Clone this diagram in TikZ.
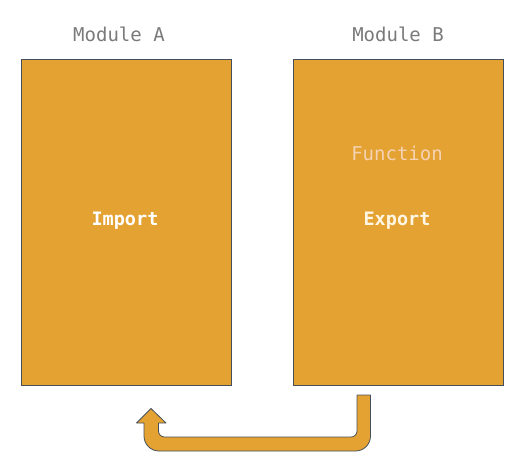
\documentclass[tikz,border=0pt]{standalone}
\usepackage{fontspec}
\setmonofont{DejaVu Sans Mono}
\begin{document}
\begin{tikzpicture}[x=1pt,y=1pt,
  modbox/.style={draw=edgec,fill=boxc,line width=0.8pt,minimum width=210pt,minimum height=326pt,inner sep=0pt},
  title/.style={text=titlec,font=\ttfamily\fontsize{19}{22}\selectfont},
  lbl/.style={font=\ttfamily\bfseries\fontsize{18.5}{22}\selectfont}]
\definecolor{boxc}{HTML}{E3A232}
\definecolor{edgec}{HTML}{46505C}
\definecolor{titlec}{HTML}{7A7A7A}
\definecolor{funcc}{HTML}{F6D2B4}
\definecolor{expc}{HTML}{FFF6E4}
\useasboundingbox (0,0) rectangle (529,-472);
\node[modbox] (A) at (126,-222) {};
\node[modbox] (B) at (398,-222) {};
\node[title] (tA) at (119,-34) {Module A};
\node[title] (tB) at (398,-34) {Module B};
\node[lbl,text=white] (imp) at (125,-221) {Import};
\node[lbl,text=expc] (exp) at (397,-221) {Export};
\node[font=\ttfamily\fontsize{19}{22}\selectfont,text=funcc] (fun) at (397,-153) {Function};
\coordinate (s) at (357,-395);
\draw[draw=edgec,fill=boxc,line width=0.8pt,line join=round]
  (s) -- ++(13.5,0) -- (370.5,-436) arc[start angle=0,end angle=-90,radius=15]
  -- (159,-451) arc[start angle=270,end angle=180,radius=15]
  -- (144,-423) -- (136.5,-423) -- (151,-408.5) -- (166,-423) -- (158.5,-423)
  -- (158.5,-431) arc[start angle=180,end angle=270,radius=6]
  -- (351,-437) arc[start angle=-90,end angle=0,radius=6]
  -- cycle;
\end{tikzpicture}
\end{document}
